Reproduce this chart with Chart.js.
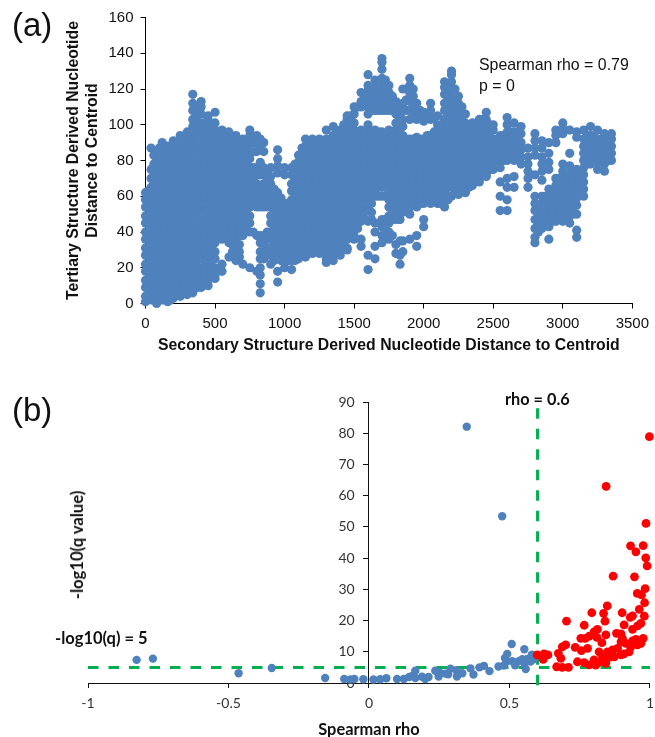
<!DOCTYPE html>
<html><head><meta charset="utf-8">
<script src="https://cdn.jsdelivr.net/npm/chart.js@4"></script>
<style>
html,body{margin:0;padding:0;background:#fff;width:655px;height:737px;overflow:hidden}
canvas{position:absolute;left:0}
.t{position:absolute;white-space:nowrap;color:#111}
.a{font-family:"Liberation Sans",Arial,sans-serif}
.c{font-family:Lato,sans-serif;font-weight:700;color:#111}
</style></head><body>
<canvas id="ca" style="top:0"></canvas>
<canvas id="cb" style="top:370px"></canvas>
<div class="t a" style="left:12px;top:6px;font-size:33px">(a)</div>
<div class="t a" style="left:12px;top:391px;font-size:33px">(b)</div>
<div class="t a" style="left:479px;top:54px;font-size:15.9px;line-height:21px">Spearman rho = 0.79<br>p = 0</div>
<div class="t c" style="left:505px;top:389px;font-size:16.3px">rho = 0.6</div>
<div class="t c" style="left:55px;top:628px;font-size:16.5px">-log10(q) = 5</div>
<script>
const cloudX=[0,40,80,120,160,200,250,300,340,400,450,500,550,600,650,700,750,800,825,850,900,950,1000,1050,1100,1150,1200,1250,1300,1350,1400,1450,1500,1550,1600,1650,1700,1750,1800,1830,1850,1900,1950,2000,2050,2100,2150,2200,2250,2300,2350,2400,2450,2500,2550,2600,2650,2700,2750,2800,2850,2900,2950,3000,3050,3100,3150,3200,3250,3300,3350];
const cloudY=[
[1,4,9,13,18,22,27,31,36,40,45,49,54,58,62],
[2,7,11,16,20,25,29,34,38,43,47,52,56,61,65,70,75,87],
[0,4,9,13,18,22,27,31,36,40,45,49,54,58,63,67,72,76,81,85],
[2,7,11,16,20,25,29,34,38,43,47,52,56,61,65,70,74,79,83,88,90],
[1,4,9,13,18,22,27,31,36,40,45,49,54,58,63,67,72,76,81,85,88],
[3,7,11,16,20,25,29,34,38,43,47,52,56,61,65,70,74,79,83,88,91],
[4,9,13,18,22,27,31,36,40,45,49,54,58,63,67,72,76,81,85,90,94],
[5,7,11,16,20,25,29,34,38,43,47,52,56,61,65,70,74,79,83,88,92,96],
[6,9,13,18,22,27,31,36,40,45,49,54,58,63,67,72,76,81,85,90,94,99,103,108,112,117],
[9,11,16,20,25,29,34,38,43,47,52,56,61,65,70,74,79,83,88,92,97,101,106,110,113],
[10,13,18,22,27,31,36,40,45,49,54,58,63,67,72,76,81,85,90,94,99,103,105],
[14,16,20,25,29,34,38,43,47,52,56,61,65,70,74,79,83,88,92,97,101,107],
[18,22,36,40,45,49,54,58,63,67,72,76,81,85,90,94,97],
[26,34,38,43,47,52,56,61,65,70,74,79,83,88,92,96],
[24,27,31,36,40,45,49,54,58,63,67,72,76,81,85,90,94],
[22,38,43,47,52,56,61,65,70,74,79,83,88,92],
[20,40,45,49,54,58,63,67,72,76,81,85,90,94,97],
[18,38,54,58,63,67,72,76,85,90,94],
[6,11,16,20,25,29,34,38,54,60,66,72,79,86,92],
[25,29,34,38,54,58,63,67,72,76,85,90],
[22,27,31,36,40,45,49,54,58,63,67,71,76],
[12,18,27,31,36,40,45,49,54,58,62,73,77,81,86],
[20,25,29,34,38,43,47,52,56,72,76],
[19,24,27,31,36,40,45,49,54,58,63,67,72,76],
[25,29,34,38,43,47,52,56,61,65,70,74,79,83],
[26,31,36,40,45,49,54,58,63,67,72,76,81,85,88,92],
[28,29,34,38,43,47,52,56,61,65,70,74,79,83,88,92],
[28,31,36,40,45,49,54,58,63,67,72,76,81,85,90,92],
[23,25,29,34,38,43,47,52,56,61,65,70,74,79,83,88,92,97],
[24,27,31,36,40,45,49,54,58,63,67,72,76,81,85,90,94,99],
[27,29,34,38,43,47,52,56,61,65,70,74,79,83,88,92,97],
[30,31,36,40,45,49,54,58,63,67,72,76,81,85,90,94,99,103,105],
[36,38,43,47,52,56,61,65,70,74,79,83,88,92,97,101,106,110],
[32,36,46,49,54,58,63,67,72,76,81,85,90,94,97,110,113,118],
[19,27,46,52,56,61,65,70,74,79,83,88,92,97,100,106,110,115,119,122,128],
[25,32,40,45,60,63,67,72,76,81,85,90,94,97,108,112,117,121,125],
[34,38,43,47,60,65,70,74,79,83,88,92,96,108,112,117,122,126,131,135,137],
[36,40,45,49,54,58,63,67,72,76,81,85,90,94,97,108,113,118,122],
[28,33,47,52,56,61,65,70,74,79,83,88,92,97,101,106,110,113],
[22,27,35,47,54,63,72,81,90,99,108],
[29,35,51,54,58,63,67,72,76,81,85,90,94,99,103,108,112,120],
[36,50,54,58,61,65,70,74,79,83,88,92,103,108,113,118,122,126],
[32,38,54,58,63,67,72,76,81,85,90,93,103,108,112],
[43,47,56,61,65,70,74,79,83,88,92,102,107],
[56,58,63,67,72,76,81,85,90,94,103,108,112],
[56,61,65,70,74,79,83,88,92,97,100,105],
[54,58,63,67,72,76,81,85,90,94,99,103,108,112,117,121,124],
[60,65,70,74,79,83,88,92,97,101,106,110,115,119,124,128,130],
[61,63,67,72,76,81,85,90,94,99,103,108,112,116],
[62,65,70,74,79,83,88,92,97,101,106],
[66,67,72,76,81,85,90,94,99,101],
[68,70,74,79,83,88,92,97,101,103],
[71,72,76,81,85,90,94,99,103,107],
[75,79,83,88,92,97,100],
[52,60,68,76,81,85,90,94],
[52,58,65,70,80,84,88,92,96,100,104],
[65,71,80,84,88,92,96,101],
[78,82,86,90,95,99],
[65,70,74,78,82,87],
[34,37,42,47,52,56,60,72,83,87,91,95],
[42,47,52,56,60,69,74,78,82,87,91],
[36,43,48,52,56,60,64,75,79,84,90],
[46,50,54,58,62,66,70,90,94,97],
[46,50,54,58,62,66,70,74,78,95,98,101],
[45,49,53,57,61,65,69,73,77,84,97],
[37,41,50,55,59,63,67,71,75,93,96],
[60,64,68,72,76,80,84,88,92,97],
[78,82,86,90,94,99],
[75,79,83,87,91,97],
[74,78,82,86,90,95],
[80,84,88,92,95]
];
const denseX=[20,60,100,140,180,225,275,320,370,425,475,525,575,625,675,725,775,875,925,975,1025,1075,1125,1175,1225,1275,1325,1375,1425,1475,1525,1575,1625,1675,1725,1775,1825,1875,1925,1975,2025,2075,2125,2175,2225,2275,2325,2375,2425,2475,2525,2575,2625,2675,2825,2875,2925,2975,3025,3075,3125,3175,3225,3275,3325];
const denseY=[
[4,9,13,18,22,27,31,36,40,45,49,54,58,63],
[2,6,11,15,20,24,29,33,38,42,47,51,56,60,65,69,74,78,83],
[2,6,11,15,20,24,29,33,38,42,47,51,56,60,65,69,74,78,83,87],
[2,6,11,15,20,24,29,33,38,42,47,51,56,60,65,69,74,78,83,85],
[2,6,11,15,20,24,29,33,38,42,47,51,56,60,65,69,74,78,83,87],
[5,6,11,15,20,24,29,33,38,42,47,51,56,60,65,69,74,78,83,87,90],
[6,11,15,20,24,29,33,38,42,47,51,56,60,65,69,74,78,83,87,92],
[7,11,15,20,24,29,33,38,42,47,51,56,60,65,69,74,78,83,87,92],
[9,11,15,20,24,29,33,38,42,47,51,56,60,65,69,74,78,83,87,92,96,101,105,110],
[13,15,20,24,29,33,38,42,47,51,56,60,65,69,74,78,83,87,92,96,101],
[15,20,24,29,33,38,42,47,51,56,60,65,69,74,78,83,87,92,96,100],
[19,38,42,47,51,56,60,65,69,74,78,83,87,92,96],
[38,42,47,51,56,60,65,69,74,78,83,87,92],
[29,33,38,42,47,51,56,60,65,69,74,78,83,87,92],
[26,29,33,38,42,47,51,56,60,65,69,74,78,83,87,90],
[42,47,51,56,60,65,69,74,78,83,87,90],
[40,56,60,65,69,74,76,85,90],
[27,31,36,40,54,60,65,69,74],
[24,29,33,38,42,47,51,56,60,64],
[24,29,33,38,42,47,51,56,59],
[24,29,33,38,42,47,51,56],
[24,29,33,38,42,47,51,56,60,65,69,74,78],
[27,29,33,38,42,47,51,56,60,65,69,74,78,83,87],
[29,33,38,42,47,51,56,60,65,69,74,78,83,87,90],
[31,33,38,42,47,51,56,60,65,69,74,78,83,87,90],
[29,33,38,42,47,51,56,60,65,69,74,78,83,87,90],
[27,29,33,38,42,47,51,56,60,65,69,74,78,83,87,92],
[29,33,38,42,47,51,56,60,65,69,74,78,83,87,92,96],
[33,38,42,47,51,56,60,65,69,74,78,83,87,92,96,100],
[38,42,47,51,56,60,65,69,74,78,83,87,92,96,101,105],
[42,47,51,56,60,65,69,74,78,83,87,92,96,110],
[47,51,56,60,65,69,74,78,83,87,92,96,112,116],
[47,51,56,60,65,69,74,78,83,87,92,96,108,112,116,120],
[60,65,69,74,78,83,87,92,96,108,112,116,120],
[38,42,47,60,65,69,74,78,83,87,92,94,108,112,116,120,125],
[38,47,51,56,60,65,69,74,78,83,87,92,96,108,112,116],
[47,51,56,60,65,69,74,78,83,87,92,96,101,105],
[54,58,60,65,69,74,78,83,87,92,108,114,120],
[56,60,65,69,74,78,83,87,92,104,110,116,120],
[56,60,65,69,74,78,83,87,92,104,108],
[58,60,65,69,74,78,83,87,92,94,104],
[58,60,65,69,74,78,83,87,92,96,104],
[56,60,65,69,74,78,83,87,92,96,100],
[58,60,65,69,74,78,83,87,92,96,101,105,110,114,120],
[62,65,69,74,78,83,87,92,96,101,105,110,114,120],
[65,69,74,78,83,87,92,96,101,105,110],
[65,69,74,78,83,87,92,96,100],
[70,74,78,83,87,92,96,100],
[73,78,83,87,92,96,103],
[75,78,83,87,92,96,100],
[80,83,87,92],
[80,83,87,92,94],
[84,88,92,96],
[84,88,92,96],
[40,45,50,55],
[45,50,55,60],
[46,50,54,58,62],
[50,54,58,62,66,70],
[50,54,58,62,66,70],
[50,54,58,62,66,70],
[64,68,72],
[78,82,86,90,94],
[80,84,88,92,94],
[80,84,88,92],
[80,84,88,92]
];
const blueRho=[-.827,-.769,-.464,-.346,-.156,-.088,-.066,-.052,-.02,.016,.04,.062,.1,.124,.143,.155,.165,.165,.189,.2,.212,.236,.248,.254,.272,.282,.29,.311,.313,.332,.348,.361,.372,.393,.409,.429,.461,.474,.48,.484,.49,.492,.508,.51,.52,.533,.546,.553,.553,.558,.564,.575,.58,.586];
const blueQ=[7.4,7.8,3.1,4.8,1.6,1.3,1.1,1.3,1.2,1.1,1.2,1.5,1.3,1.3,1.9,2.3,3.9,1.6,2,1.3,1.9,3.9,2.1,3.2,3,2.8,4.6,4.1,2.1,3.1,82.1,4.7,2.7,5,5.5,3.8,5.3,53.4,5.6,8,6.9,9.3,12.5,7,5.7,7,7.6,10.8,6.3,4.5,7.7,6.9,9.1,7.6];
const redRho=[.998,.844,.986,.931,.976,.95,.985,.99,.869,.945,.983,.955,.97,.981,.848,.962,.793,.901,.835,.938,.93,.98,.703,.84,.968,.766,.908,.956,.938,.813,.801,.881,.897,.843,.784,.754,.77,.811,.902,.976,.95,.938,.829,.897,.7,.688,.968,.956,.734,.778,.756,.885,.867,.819,.849,.926,.908,.897,.674,.683,.873,.831,.855,.742,.766,.801,.825,.843,.784,.807,.668,.688,.71,.599,.623,.62,.637,.932,.914];
const redQ=[78.9,63,51.1,43.9,44,42,40.1,37.5,34.2,34,30.2,28.7,28.2,25.7,24.7,23.6,22.5,22.5,22.3,21.5,21,21.4,19.8,19.8,19.1,18.5,18.6,18.3,17.2,17.2,16.4,15.9,15.7,15.4,15,14.3,14.3,14.6,14.3,14.3,14,13.5,12.9,13.2,12.2,11.6,12.7,12.2,11.4,11.1,10.4,11.1,10.6,10,10,10,9.3,9,9.5,7.9,8.4,8.4,8.2,6.8,6.5,7.4,6.8,6.3,5.8,5.7,5.2,5,5,9,9.3,7.6,9,11.6,12.7];
const hLineRho=[-1,1], hLineQ=[5,5];
const vLineRho=[.6,.6], vLineQ=[-.7,88];
const xTicksA=[0,500,1000,1500,2000,2500,3000,3500], yTicksA=[0,20,40,60,80,100,120,140,160];
const xTicksB=[-1,-.5,0,.5,1], yTicksB=[0,10,20,30,40,50,60,70,80,90];
const zip=(a,b)=>a.map((v,i)=>({x:v,y:b[i]}));
const cols=(X,Y)=>X.flatMap((x,i)=>Y[i].map(y=>({x,y})));
const cloud=cols(cloudX,cloudY).concat(cols(denseX,denseY));
const ticksFrom=l=>s=>{s.ticks=l.map(v=>({value:v}));};
Chart.defaults.animation=false;
Chart.defaults.responsive=false;
const sz=(el,w,h)=>{el.width=w;el.height=h;el.style.width=w+'px';el.style.height=h+'px';};
const ca=document.getElementById('ca'),cb=document.getElementById('cb');
sz(ca,655,370);sz(cb,661,370);
const fa='"Liberation Sans",Arial,sans-serif', fb='Lato,sans-serif';
new Chart(ca,{type:'scatter',data:{datasets:[{data:cloud,backgroundColor:'#4F81BD',borderColor:'#4F81BD',borderWidth:0,pointRadius:4.6,clip:false}]},
options:{layout:{autoPadding:false,padding:{left:64.5,right:18.5,top:17.5,bottom:15}},
plugins:{legend:{display:false},tooltip:{enabled:false}},
scales:{
x:{type:'linear',min:0,max:3500,afterBuildTicks:ticksFrom(xTicksA),afterFit:s=>{s.height=51.5},
 grid:{drawOnChartArea:false,color:'#000',tickLength:5},border:{color:'#000'},
 ticks:{color:'#111',font:{family:fa,size:15},maxRotation:0,autoSkip:false,padding:6,callback:v=>String(v)},
 title:{display:true,text:'Secondary Structure Derived Nucleotide Distance to Centroid',color:'#111',font:{family:fa,size:15.8,weight:'bold'},padding:{top:3,bottom:0}}},
y:{type:'linear',min:0,max:160,afterBuildTicks:ticksFrom(yTicksA),afterFit:s=>{s.width=81},
 grid:{drawOnChartArea:false,color:'#000',tickLength:5},border:{color:'#000'},
 ticks:{color:'#111',font:{family:fa,size:15},autoSkip:false,padding:7},
 title:{display:true,text:['Tertiary Structure Derived Nucleotide','Distance to Centroid'],color:'#111',font:{family:fa,size:15.8,weight:'bold',lineHeight:1.2},padding:{top:0,bottom:0}}}
}}});
new Chart(cb,{type:'scatter',data:{datasets:[
{data:zip(hLineRho,hLineQ),showLine:true,borderColor:'#00B050',borderWidth:3,borderDash:[10.5,10],pointRadius:0,clip:false,order:3},
{data:zip(vLineRho,vLineQ),showLine:true,borderColor:'#00B050',borderWidth:3,borderDash:[10.5,10],pointRadius:0,clip:false,order:3},
{data:zip(blueRho,blueQ),backgroundColor:'#4F81BD',borderWidth:0,pointRadius:4.2,clip:false,order:2},
{data:zip(redRho,redQ),backgroundColor:'#FF0000',borderWidth:0,pointRadius:4.4,clip:false,order:1}
]},
options:{layout:{autoPadding:false,padding:{left:88,right:3,top:32,bottom:0}},
plugins:{legend:{display:false},tooltip:{enabled:false}},
scales:{
x:{type:'linear',min:-1,max:1,afterBuildTicks:ticksFrom(xTicksB),afterFit:s=>{s.height=57},
 grid:{drawOnChartArea:false,color:'#111',tickLength:5},border:{color:'#111'},
 ticks:{color:'#333',font:{family:fb,size:14},maxRotation:0,autoSkip:false,padding:7,callback:v=>String(v)},
 title:{display:true,text:'Spearman rho',color:'#111',font:{family:fb,size:16.4,weight:'bold'},padding:{top:6,bottom:0}}},
y:{type:'linear',min:0,max:90,position:{x:0},afterBuildTicks:ticksFrom(yTicksB),afterFit:s=>{s.width=0},
 grid:{drawOnChartArea:false,color:'#111',tickLength:5},border:{color:'#111'},
 ticks:{color:'#333',font:{family:fb,size:14},autoSkip:false,callback:v=>v+'    '}}
}}});
</script>
<div class="t c" style="left:77px;top:545px;font-size:16.6px;transform:translate(-50%,-50%) rotate(-90deg)">-log10(q value)</div>
</body></html>
